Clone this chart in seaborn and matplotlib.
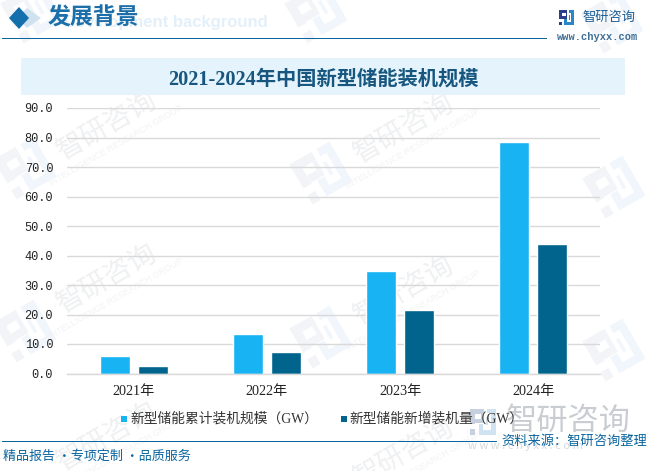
import math
import matplotlib
matplotlib.use("Agg")
import matplotlib.pyplot as plt
from matplotlib.patches import Rectangle, Polygon
import pandas as pd
import seaborn as sns

years = ["2021年", "2022年", "2023年", "2024年"]
cumulative = [5.8, 13.3, 34.6, 78.5]
added = [2.6, 7.4, 21.6, 43.8]
series_a = "新型储能累计装机规模（GW）"
series_b = "新型储能新增装机量（GW）"
y_ticks = [0, 10, 20, 30, 40, 50, 60, 70, 80, 90]

W, H = 651, 471
FONT = ["Liberation Serif", "Noto Sans CJK SC", "DejaVu Sans"]
SANS = ["Noto Sans CJK SC", "DejaVu Sans"]

sns.set_theme(style="white")
plt.rcParams["font.family"] = FONT

fig = plt.figure(figsize=(W / 100, H / 100), dpi=100, facecolor="white")

def fx(x): return x / W
def fy(y): return 1 - y / H

def frect(x0, y0, x1, y1, color, z=1):
    fig.add_artist(Rectangle((fx(x0), fy(y1)), (x1 - x0) / W, (y1 - y0) / H,
                             transform=fig.transFigure, color=color, lw=0, zorder=z))

LOGO_DARK = [(-1, -1, 0.1, -0.6), (-1, -1, -0.6, 0.2), (-0.6, -0.2, -0.1, 0.15),
             (-0.1, -0.6, 0.1, 0.15), (-1, 0.55, -0.6, 1)]
LOGO_LIGHT = [(0.35, -1, 1, -0.65), (0.65, -0.65, 1, 1), (-0.3, 0.65, 0.65, 1),
              (-0.3, 0.2, 0.05, 0.65), (0.3, -0.35, 0.45, 0.3)]

def logo(cx, cy, s, dark, light, z=1, angle=0):
    a = math.radians(angle)
    def pt(u, v):
        x = u * s * math.cos(a) + v * s * math.sin(a)
        y = -u * s * math.sin(a) + v * s * math.cos(a)
        return (fx(cx + x), fy(cy + y))
    for parts, col in ((LOGO_DARK, dark), (LOGO_LIGHT, light)):
        for (x0, y0, x1, y1) in parts:
            fig.add_artist(Polygon([pt(x0, y0), pt(x1, y0), pt(x1, y1), pt(x0, y1)],
                                   transform=fig.transFigure, color=col, lw=0, zorder=z))

# ---- background watermarks
wm_c = "#EFF0F2"
for (x, y) in [(107, 125), (107, 278), (107, 436), (404, 128), (404, 290), (404, 452)]:
    fig.text(fx(x), fy(y), "智研咨询", fontsize=20, color=wm_c, rotation=30, family=SANS,
             ha="center", va="center", zorder=0.5)
    fig.text(fx(x + 9), fy(y + 21), "INTELLIGENCE RESEARCH GROUP", fontsize=6.5, color="#F2F3F5",
             rotation=30, family=["Liberation Sans"], ha="center", va="center", zorder=0.5)
for (x, y) in [(25, 168), (25, 331), (321, 173), (321, 337), (614, 187), (614, 350),
               (32, 12), (316, 12), (612, 22)]:
    logo(x, y, 23, "#F2F4F7", "#F0F6FB", 0.5, angle=30)

# ---- header
fig.text(fx(64), fy(22), "Development background", fontsize=12, fontweight="bold", color="#E3F0FA",
         family=["Liberation Sans"], ha="left", va="center", zorder=1)
fig.add_artist(Polygon([(fx(27), fy(8)), (fx(41), fy(18)), (fx(27), fy(28)), (fx(17), fy(18))],
                       transform=fig.transFigure, color="#CFE2EF", lw=0, zorder=2))
fig.add_artist(Polygon([(fx(19), fy(7)), (fx(29), fy(18)), (fx(19), fy(29)), (fx(9), fy(18))],
                       transform=fig.transFigure, color="#1370AC", lw=0, zorder=3))
fig.text(fx(48), fy(18), "发展背景", fontsize=16.5, fontweight="bold", color="#1C6FA8",
         family=SANS, ha="left", va="center", zorder=3)
frect(2, 37.7, 547, 39.2, "#0B659F", 2)

# brand top right
logo(566.5, 17.5, 7.5, "#2B3F8C", "#2A86C8", 3)
fig.text(fx(582), fy(17), "智研咨询", fontsize=9.5, color="#1F5F96", family=SANS,
         ha="left", va="center", zorder=3)
fig.text(fx(557), fy(37), "www.chyxx.com", fontsize=7.5, color="#3F6E96",
         family=["Liberation Mono"], fontweight="bold", ha="left", va="center", zorder=3)

# ---- title band
frect(21, 58, 625, 95, "#E5F3FC", 1)
fig.text(fx(323), fy(79.5), "2021-2024年中国新型储能装机规模", fontsize=14.6, fontweight="bold",
         color="#17577F", family=FONT, ha="center", va="center", zorder=3)

# ---- chart
ax = fig.add_axes([fx(67), fy(373.5), (600 - 67) / W, (373.5 - 108) / H], zorder=2)
ax.patch.set_alpha(0)
df = pd.DataFrame({
    "year": years * 2,
    "value": cumulative + added,
    "series": [series_a] * len(years) + [series_b] * len(years),
})
sns.barplot(data=df, x="year", y="value", hue="series", ax=ax, order=years,
            palette=["#18B3F3", "#00648C"], width=0.57, gap=0.21, saturation=1, legend=False)
ax.set_xlim(-0.5, 3.5)
ax.set_ylim(0, 90)
ax.set_yticks(y_ticks)
ax.set_yticklabels([f"{v:.1f}" for v in y_ticks], fontsize=8.6, color="#222222",
                   family=["Liberation Mono"])
ax.tick_params(axis="x", labelsize=10.2, labelcolor="#222222", length=0, pad=8)
ax.tick_params(axis="y", length=0, pad=10)
ax.set_xlabel("")
ax.set_ylabel("")
ax.yaxis.grid(True, color="#D9D9D9", lw=1)
ax.set_axisbelow(True)
for s in ["top", "right", "left"]:
    ax.spines[s].set_visible(False)
ax.spines["bottom"].set_color("#D9D9D9")
ax.spines["bottom"].set_linewidth(1)
for lab in ax.get_xticklabels():
    lab.set_family(FONT)

# ---- legend
frect(121, 416, 127, 422, "#18B3F3", 3)
frect(341, 416, 347, 422, "#00648C", 3)
fig.text(fx(130), fy(419), series_a, fontsize=9.9, color="#333333", family=FONT, ha="left", va="center", zorder=3)
fig.text(fx(349), fy(419), series_b, fontsize=9.9, color="#333333", family=FONT, ha="left", va="center", zorder=3)

# ---- footer
logo(482.5, 421.5, 13, "#C6D0DE", "#CFE3F0", 1)
fig.text(fx(506), fy(421), "智研咨询", fontsize=22.5, color="#C9CDD2", family=SANS, ha="left", va="center", zorder=1)
fig.text(fx(468), fy(446), "w w w . c h y x x . c o m", fontsize=8, color="#D5D9DE", family=SANS, ha="left", va="center", zorder=1)
frect(2, 440.5, 497, 441.8, "#0B659F", 2)
fig.text(fx(501), fy(441.5), "资料来源：智研咨询整理", fontsize=9.5, color="#0B659F", family=SANS, ha="left", va="center", zorder=3)
fig.text(fx(3), fy(456), "精品报告 ·专项定制 ·品质服务", fontsize=9.4, color="#0B659F", family=SANS, ha="left", va="center", zorder=3)

fig.savefig("out.png", dpi=100)
